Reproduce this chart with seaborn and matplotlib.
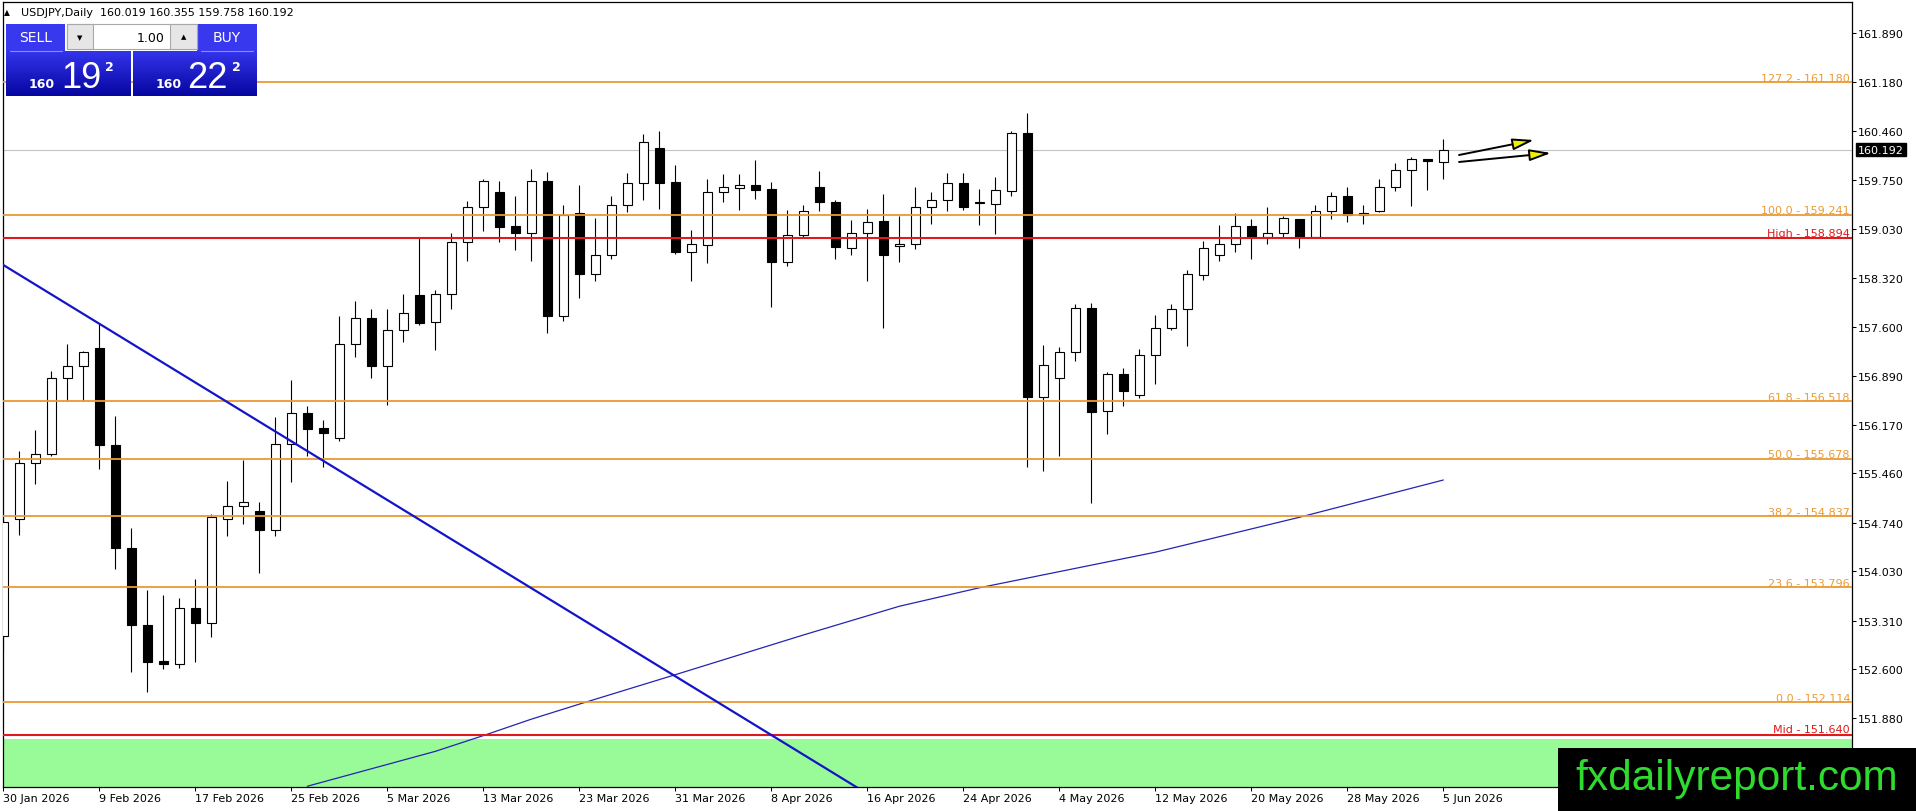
import numpy as np
import pandas as pd
import matplotlib
matplotlib.use("Agg")
import matplotlib.pyplot as plt
import matplotlib.transforms as mtransforms
from matplotlib.patches import Rectangle, FancyArrowPatch
from matplotlib.colors import LinearSegmentedColormap
import seaborn as sns

# ---------------- data ----------------
opens = [153.09, 154.80, 155.61, 155.75, 156.85, 157.03, 157.29, 155.88, 154.37, 153.25,
         152.72, 152.68, 153.49, 153.27, 154.80, 154.98, 154.91, 154.64, 155.89, 156.35,
         156.12, 155.98, 157.35, 157.73, 157.03, 157.56, 158.07, 157.67, 158.08, 158.84,
         159.35, 159.57, 159.07, 158.98, 159.73, 157.76, 159.27, 158.38, 158.65, 159.39,
         159.71, 160.21, 159.72, 158.70, 158.80, 159.58, 159.63, 159.67, 159.61, 158.55,
         158.95, 159.64, 159.43, 158.76, 158.97, 159.15, 158.78, 158.81, 159.36, 159.46,
         159.70, 159.41, 159.40, 159.59, 160.43, 156.58, 156.86, 157.23, 157.88, 156.37,
         156.92, 156.60, 157.19, 157.59, 157.86, 158.36, 158.66, 158.82, 159.07, 158.91,
         158.97, 159.18, 158.91, 159.29, 159.51, 159.24, 159.29, 159.65, 159.90, 160.06,
         160.019]
highs = [154.79, 155.79, 156.09, 156.96, 157.35, 157.25, 157.66, 156.30, 154.66, 153.76,
         153.68, 153.64, 153.92, 154.87, 155.35, 155.65, 155.05, 156.29, 156.83, 156.45,
         156.24, 157.76, 157.98, 157.87, 157.86, 158.09, 158.91, 158.14, 158.98, 159.44,
         159.76, 159.73, 159.51, 159.91, 159.87, 159.39, 159.67, 159.19, 159.51, 159.85,
         160.42, 160.46, 159.97, 159.02, 159.76, 159.83, 159.83, 160.04, 159.72, 159.31,
         159.38, 159.88, 159.45, 159.16, 159.32, 159.54, 159.22, 159.64, 159.58, 159.85,
         159.85, 159.61, 159.79, 160.46, 160.73, 157.34, 157.31, 157.94, 157.95, 156.94,
         157.00, 157.28, 157.77, 157.93, 158.43, 158.86, 159.09, 159.26, 159.18, 159.35,
         159.22, 159.18, 159.39, 159.58, 159.65, 159.38, 159.77, 160.00, 160.09, 160.06,
         160.355]
lows = [152.87, 154.56, 155.30, 155.71, 156.52, 156.52, 155.52, 154.06, 152.56, 152.27,
        152.60, 152.62, 152.70, 153.07, 154.54, 154.72, 154.00, 154.54, 155.34, 155.71,
        155.55, 155.94, 157.16, 156.86, 156.46, 157.38, 157.63, 157.27, 157.87, 158.57,
        159.00, 158.84, 158.73, 158.57, 157.52, 157.69, 158.02, 158.28, 158.59, 159.28,
        159.46, 159.32, 158.67, 158.27, 158.53, 159.42, 159.31, 159.47, 157.90, 158.49,
        158.92, 159.30, 158.60, 158.66, 158.27, 157.59, 158.55, 158.74, 159.10, 159.29,
        159.31, 159.09, 158.96, 159.52, 155.56, 155.50, 155.72, 157.10, 155.03, 156.03,
        156.44, 156.56, 156.77, 157.56, 157.33, 158.29, 158.57, 158.69, 158.60, 158.82,
        158.91, 158.76, 158.90, 159.18, 159.13, 159.11, 159.28, 159.59, 159.37, 159.60,
        159.758]
closes = [154.75, 155.61, 155.75, 156.85, 157.03, 157.23, 155.87, 154.37, 153.24, 152.71,
          152.67, 153.49, 153.27, 154.82, 154.98, 155.05, 154.64, 155.89, 156.35, 156.11,
          156.05, 157.35, 157.73, 157.03, 157.56, 157.80, 157.66, 158.08, 158.84, 159.35,
          159.73, 159.06, 158.98, 159.74, 157.76, 159.23, 158.38, 158.65, 159.39, 159.71,
          160.31, 159.71, 158.70, 158.81, 159.58, 159.65, 159.67, 159.60, 158.55, 158.95,
          159.29, 159.43, 158.77, 158.97, 159.14, 158.65, 158.81, 159.36, 159.46, 159.71,
          159.36, 159.42, 159.60, 160.43, 156.58, 157.05, 157.23, 157.88, 156.36, 156.92,
          156.67, 157.19, 157.59, 157.86, 158.37, 158.76, 158.82, 159.07, 158.91, 158.97,
          159.20, 158.91, 159.29, 159.51, 159.24, 159.27, 159.65, 159.90, 160.06, 160.02,
          160.192]

date_labels = ["30 Jan 2026", "9 Feb 2026", "17 Feb 2026", "25 Feb 2026", "5 Mar 2026",
               "13 Mar 2026", "23 Mar 2026", "31 Mar 2026", "8 Apr 2026", "16 Apr 2026",
               "24 Apr 2026", "4 May 2026", "12 May 2026", "20 May 2026", "28 May 2026",
               "5 Jun 2026"]
date_label_idx = [0, 6, 12, 18, 24, 30, 36, 42, 48, 54, 60, 66, 72, 78, 84, 90]

price_ticks = [161.890, 161.180, 160.460, 159.750, 159.030, 158.320, 157.600, 156.890,
               156.170, 155.460, 154.740, 154.030, 153.310, 152.600, 151.880]

fib_levels = [161.180, 159.241, 156.518, 155.678, 154.837, 153.796, 152.114]
fib_labels = ["127.2 - 161.180", "100.0 - 159.241", "61.8 - 156.518", "50.0 - 155.678",
              "38.2 - 154.837", "23.6 - 153.796", "0.0 - 152.114"]
red_levels = [158.894, 151.640]
red_labels = ["High - 158.894", "Mid - 151.640"]
zone_top = 151.574
bid = 160.192

ma_idx = [19, 27, 30, 33, 36, 42, 50, 56, 61, 72, 81, 90]
ma_val = [150.89, 151.40, 151.63, 151.87, 152.09, 152.52, 153.10, 153.52, 153.79,
          154.31, 154.82, 155.365]

trend_idx = [-1, 54]
trend_val = [158.65, 150.78]

arrow_start_idx = [90.98, 90.98]
arrow_start_val = [160.114, 160.012]
arrow_end_idx = [95.67, 96.73]
arrow_end_val = [160.333, 160.143]

header = "USDJPY,Daily  160.019 160.355 159.758 160.192"

# ---------------- style ----------------
sns.set_style("white")
plt.rcParams['font.family'] = ['DejaVu Sans']
plt.rcParams['axes.edgecolor'] = 'black'
plt.rcParams['text.color'] = 'black'
plt.rcParams['xtick.color'] = 'black'
plt.rcParams['ytick.color'] = 'black'

W, H, DPI = 1916, 812, 100
fig = plt.figure(figsize=(W / DPI, H / DPI), dpi=DPI, facecolor='white')
L, R, T, B = 2.5, 1852.0, 2.5, 788.0
ax = fig.add_axes([L / W, 1 - B / H, (R - L) / W, (B - T) / H])
ax.set_facecolor('white')

df = pd.DataFrame({"o": opens, "h": highs, "l": lows, "c": closes})
df["i"] = np.arange(len(df))
bull = df["c"] >= df["o"]

ORANGE = '#eb9a33'
RED = '#de1a1a'

# green zone
ax.axhspan(140, zone_top, color='#98fb98', zorder=1, lw=0)

# bid line
ax.axhline(bid, color='#c4c4c4', lw=0.8, zorder=1.5)

# moving average and trendline (seaborn)
sns.lineplot(x=ma_idx, y=ma_val, ax=ax, color='#2424b4', lw=0.9, zorder=2)
sns.lineplot(x=trend_idx, y=trend_val, ax=ax, color='#1414c8', lw=1.6, zorder=5)

# candles
ax.vlines(df["i"], df["l"], df["h"], color='black', lw=0.8, zorder=2.5)
body_bottom = np.minimum(df["o"], df["c"])
body_h = np.maximum(np.abs(df["c"] - df["o"]), 0.004)
ax.bar(df["i"], body_h, bottom=body_bottom, width=0.6,
       color=np.where(bull, 'white', 'black'), edgecolor='black', linewidth=0.8, zorder=3)

# horizontal levels
trans = mtransforms.blended_transform_factory(ax.transAxes, ax.transData)
txt_trans = mtransforms.offset_copy(trans, fig=fig, x=-2, y=1.5, units='dots')
for lv, lb in zip(fib_levels, fib_labels):
    ax.axhline(lv, color=ORANGE, lw=1.3, zorder=4)
    ax.text(1.0, lv, lb, transform=txt_trans, ha='right', va='baseline',
            color=ORANGE, fontsize=8, zorder=6)
for lv, lb in zip(red_levels, red_labels):
    ax.axhline(lv, color=RED, lw=1.5, zorder=4)
    ax.text(1.0, lv, lb, transform=mtransforms.offset_copy(trans, fig=fig, x=-2, y=2.5, units='dots'),
            ha='right', va='baseline', color=RED, fontsize=8, zorder=6)

# arrows
for xs, ys, xe, ye in zip(arrow_start_idx, arrow_start_val, arrow_end_idx, arrow_end_val):
    arr = FancyArrowPatch((xs, ys), (xe, ye), arrowstyle='-|>,head_length=1.3,head_width=0.35',
                          mutation_scale=10, facecolor='#f0f000', edgecolor='black', lw=1.4,
                          shrinkA=0, shrinkB=0, zorder=7)
    ax.add_patch(arr)

# axes limits and ticks
ax.set_xlim(-0.05, 115.54)
ax.set_ylim(150.879, 162.357)
ax.set_xlabel('')
ax.set_ylabel('')
ax.yaxis.tick_right()
ax.set_yticks(price_ticks)
ax.set_yticklabels([f"{v:.3f}" for v in price_ticks])
ax.set_xticks(date_label_idx)
ax.set_xticklabels(date_labels)
for lbl in ax.get_xticklabels():
    lbl.set_ha('left')
ax.tick_params(axis='y', which='both', right=True, left=False, length=3, width=0.75,
               pad=1.5, labelsize=8)
ax.tick_params(axis='x', which='both', bottom=True, length=3, width=0.75, pad=1.5, labelsize=8)
for sp in ax.spines.values():
    sp.set_visible(True)
    sp.set_color('black')
    sp.set_linewidth(0.9)
ax.grid(False)

# current price label
ax.text(1.0, bid, "160.192", transform=mtransforms.offset_copy(trans, fig=fig, x=6, y=0, units='dots'),
        ha='left', va='center', color='white', fontsize=8, zorder=8, clip_on=False,
        bbox=dict(facecolor='black', edgecolor='black', pad=1.2))

# ---------------- overlay (panel, header, watermark) ----------------
ov = fig.add_axes([0, 0, 1, 1], zorder=10)
ov.patch.set_visible(False)
ov.axis('off')

ov.text(4, 13, '\u25b2', fontsize=5.5, va='center', ha='left')
ov.text(21, 13, header, fontsize=8, va='center', ha='left')

cmap = LinearSegmentedColormap.from_list('panel', ['#3434ec', '#0606a0'])
grad = np.linspace(0, 1, 60).reshape(-1, 1)
for x0, x1 in [(6, 131), (133, 257)]:
    ov.imshow(grad, extent=(x0, x1, 97, 52), cmap=cmap, aspect='auto', zorder=1,
              interpolation='bilinear')
ov.add_patch(Rectangle((6, 25), 59, 27, facecolor='#3838ee', edgecolor='none', zorder=1))
ov.add_patch(Rectangle((197, 25), 60, 27, facecolor='#3838ee', edgecolor='none', zorder=1))
ov.plot([10, 62], [51.5, 51.5], color='#8c8cff', lw=0.8, zorder=2)
ov.plot([201, 253], [51.5, 51.5], color='#8c8cff', lw=0.8, zorder=2)
ov.add_patch(Rectangle((67, 25), 130, 25, facecolor='white', edgecolor='#a8a8a8', lw=0.8, zorder=1))
ov.add_patch(Rectangle((67, 25), 26, 25, facecolor='#e6e6e6', edgecolor='#a8a8a8', lw=0.8, zorder=2))
ov.add_patch(Rectangle((170, 25), 27, 25, facecolor='#e6e6e6', edgecolor='#a8a8a8', lw=0.8, zorder=2))
ov.text(80, 38, '\u25bc', fontsize=5, ha='center', va='center', zorder=3)
ov.text(183.5, 37, '\u25b2', fontsize=5, ha='center', va='center', zorder=3)
ov.text(165, 38, '1.00', fontsize=9, ha='right', va='center', zorder=3)
ov.text(35.5, 38.5, 'SELL', fontsize=10, ha='center', va='center', color='white', zorder=3)
ov.text(227, 38.5, 'BUY', fontsize=10, ha='center', va='center', color='white', zorder=3)

for xs, xb, xsup, big in [(29, 61, 105, '19'), (156, 187, 232, '22')]:
    ov.text(xs, 88, '160', fontsize=9, fontweight='bold', color='white', ha='left',
            va='baseline', zorder=3)
    ov.text(xb, 88.5, big, fontsize=26, family=['Liberation Sans', 'DejaVu Sans'],
            color='white', ha='left', va='baseline', zorder=3)
    ov.text(xsup, 71, '2', fontsize=9, fontweight='bold', color='white', ha='left',
            va='baseline', zorder=3)

# watermark
ov.add_patch(Rectangle((1558, 749), 358, 63, facecolor='black', edgecolor='none', zorder=5))
ov.text(1575, 790, 'fxdailyreport.com', fontsize=30.5, family=['Liberation Sans', 'DejaVu Sans'],
        color='#2edb2e', ha='left', va='baseline', zorder=6)

ov.set_xlim(0, W)
ov.set_ylim(H, 0)

fig.savefig('out.png', dpi=DPI, facecolor='white')
